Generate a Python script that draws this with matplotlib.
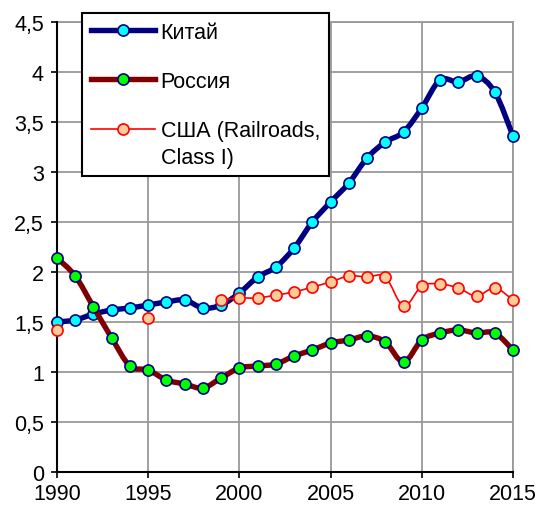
import numpy as np
import matplotlib
matplotlib.use("Agg")
import matplotlib.pyplot as plt
from matplotlib.path import Path
from matplotlib.patches import PathPatch
from matplotlib.lines import Line2D

plt.rcParams['font.family'] = ['Liberation Sans', 'DejaVu Sans']

years = list(range(1990, 2016))
china = [1.50, 1.52, 1.58, 1.62, 1.64, 1.67, 1.70, 1.72, 1.64, 1.67,
         1.79, 1.95, 2.05, 2.24, 2.50, 2.70, 2.89, 3.14, 3.30, 3.40,
         3.64, 3.92, 3.90, 3.96, 3.80, 3.36]
russia = [2.14, 1.96, 1.65, 1.34, 1.06, 1.02, 0.92, 0.88, 0.84, 0.94,
          1.04, 1.06, 1.08, 1.16, 1.22, 1.29, 1.32, 1.36, 1.30, 1.10,
          1.32, 1.39, 1.42, 1.39, 1.39, 1.22]
usa = [1.42, None, None, None, None, 1.54, None, None, None, 1.72,
       1.74, 1.74, 1.77, 1.80, 1.85, 1.90, 1.96, 1.95, 1.95, 1.66,
       1.86, 1.88, 1.84, 1.76, 1.84, 1.72]
labels = ['Китай', 'Россия', 'США (Railroads,\nClass I)']
yticks = [0, 0.5, 1, 1.5, 2, 2.5, 3, 3.5, 4, 4.5]
ytick_labels = ['0', '0,5', '1', '1,5', '2', '2,5', '3', '3,5', '4', '4,5']
xticks = [1990, 1995, 2000, 2005, 2010, 2015]


def smooth_path(xs, ys):
    # excel-like smoothed line, split where values are missing
    verts, codes = [], []
    seg = []
    runs = []
    for x, y in zip(xs, ys):
        if y is None:
            if seg:
                runs.append(seg)
            seg = []
        else:
            seg.append((x, y))
    if seg:
        runs.append(seg)
    for r in runs:
        if len(r) < 2:
            continue
        p = np.array(r, dtype=float)
        n = len(p)
        verts.append(p[0]); codes.append(Path.MOVETO)
        for i in range(n - 1):
            p0 = p[i - 1] if i > 0 else p[i]
            p3 = p[i + 2] if i + 2 < n else p[i + 1]
            c1 = p[i] + (p[i + 1] - p0) / 6.0
            c2 = p[i + 1] - (p3 - p[i]) / 6.0
            verts += [c1, c2, p[i + 1]]
            codes += [Path.CURVE4] * 3
    return Path(verts, codes)


fig = plt.figure(figsize=(5.38, 5.06), dpi=100)
ax = fig.add_axes([57 / 538, 33 / 506, 456 / 538, 450 / 506])

styles = [
    dict(color='#000080', lw=3.9, mfc='#00FFFF', mec='#000080'),
    dict(color='#800000', lw=3.9, mfc='#00FF00', mec='#000080'),
    dict(color='#FF0000', lw=1.2, mfc='#FFCC99', mec='#FF0000'),
]
handles = []
for k, (vals, st) in enumerate(zip([china, russia, usa], styles)):
    pth = smooth_path(years, vals)
    ax.add_patch(PathPatch(pth, facecolor='none', edgecolor=st['color'],
                           lw=st['lw'], joinstyle='round', capstyle='round',
                           zorder=3 + k))
    yv = [np.nan if v is None else v for v in vals]
    ax.plot(years, yv, linestyle='none', marker='o', markersize=8,
            markerfacecolor=st['mfc'], markeredgecolor=st['mec'],
            markeredgewidth=1.2, zorder=3 + k, clip_on=False)
    handles.append(Line2D([], [], color=st['color'], lw=st['lw'], marker='o',
                          markersize=8, markerfacecolor=st['mfc'],
                          markeredgecolor=st['mec'], markeredgewidth=1.2))

ax.set_xlim(1990, 2015)
ax.set_ylim(0, 4.5)
ax.set_xticks(xticks)
ax.set_xticklabels([str(x) for x in xticks])
ax.set_yticks(yticks)
ax.set_yticklabels(ytick_labels)
ax.tick_params(labelsize=15.5, direction='out', length=4.5, width=1.2,
               color='black', pad=5)
ax.tick_params(axis='x', pad=3.5)
ax.grid(True, color='#999999', lw=1.3)
ax.set_axisbelow(True)
for s in ['top', 'right']:
    ax.spines[s].set_visible(False)
for s in ['left', 'bottom']:
    ax.spines[s].set_linewidth(1.5)
    ax.spines[s].set_zorder(2)
# top and right grid edges
ax.axhline(4.5, color='#999999', lw=1.3, zorder=0.5, clip_on=False)
ax.axvline(2015, color='#999999', lw=1.3, zorder=0.5, clip_on=False)

leg = fig.legend(handles, labels, loc='upper left',
                 bbox_to_anchor=(82 / 538, 1 - 14 / 506),
                 fontsize=15.5, frameon=True, fancybox=False,
                 edgecolor='black', framealpha=1, handlelength=3.0,
                 handletextpad=0.25, labelspacing=1.3, borderpad=0.4,
                 borderaxespad=0, numpoints=1)
leg.get_frame().set_linewidth(1.5)
leg.set_zorder(10)
leg.get_texts()[2].set_linespacing(1.38)

# put the last legend marker on the first text line, like the original
try:
    col = leg._legend_handle_box.get_children()[0]
    da = col.get_children()[2].get_children()[0]
    for a in da.get_children():
        a.set_ydata(np.asarray(a.get_ydata(), dtype=float) + 11)
except Exception:
    pass

fig.savefig('out.png', dpi=100)
